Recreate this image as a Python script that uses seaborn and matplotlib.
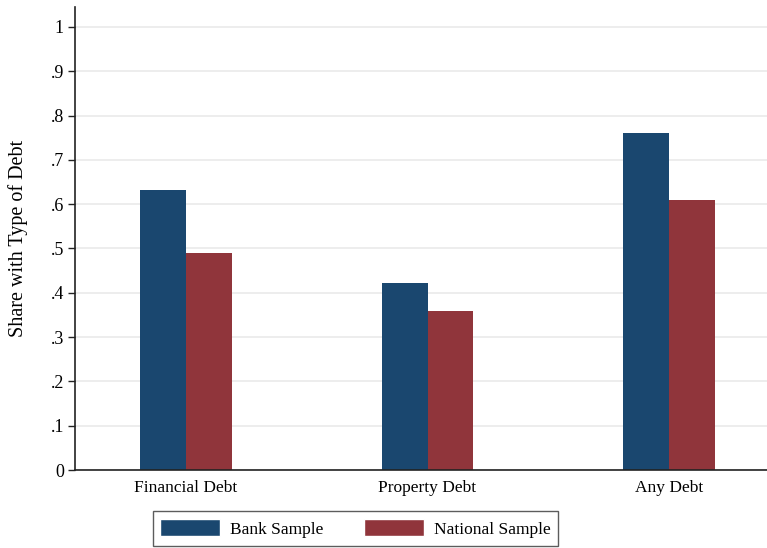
import matplotlib

matplotlib.use("Agg")
import matplotlib.pyplot as plt
import pandas as pd
import seaborn as sns

categories = ["Financial Debt", "Property Debt", "Any Debt"]
bank_sample = [0.632, 0.421, 0.761]
national_sample = [0.490, 0.359, 0.609]
series_names = ["Bank Sample", "National Sample"]
y_ticks = [0, 0.1, 0.2, 0.3, 0.4, 0.5, 0.6, 0.7, 0.8, 0.9, 1.0]
y_tick_labels = ["0", ".1", ".2", ".3", ".4", ".5", ".6", ".7", ".8", ".9", "1"]

sns.set_theme(style="whitegrid")
plt.rcParams["font.family"] = ["Liberation Serif", "DejaVu Serif"]
plt.rcParams["text.color"] = "black"

df = pd.DataFrame({
    "category": categories * 2,
    "sample": [series_names[0]] * 3 + [series_names[1]] * 3,
    "share": bank_sample + national_sample,
})

fig = plt.figure(figsize=(7.67, 5.48), dpi=100)
ax = fig.add_axes([0.0978, 0.1423, 0.9022, 0.8449])
sns.barplot(
    data=df, x="category", y="share", hue="sample",
    palette=["#1a476f", "#90353b"], width=0.38, saturation=1,
    linewidth=0, legend=False, ax=ax,
)

ax.set_xlim(-0.46, 2.406)
ax.set_ylim(0, 1.045)
ax.set_yticks(y_ticks)
ax.set_yticklabels(y_tick_labels)
ax.set_xlabel("")
ax.set_ylabel("Share with Type of Debt", fontsize=14.5, color="black")
ax.yaxis.set_label_coords(-0.068, 0.5)
ax.tick_params(axis="y", length=5, width=1, color="#222222", labelcolor="black",
               labelsize=13, pad=3, left=True)
ax.tick_params(axis="x", length=0, labelcolor="black", labelsize=12.5, pad=7)
ax.set_facecolor("white")
ax.grid(axis="y", color="#eaeaea", linewidth=1.2)
ax.grid(axis="x", visible=False)
ax.set_axisbelow(True)
for side in ["top", "right"]:
    ax.spines[side].set_visible(False)
for side in ["left", "bottom"]:
    ax.spines[side].set_color("#222222")
    ax.spines[side].set_linewidth(1.2)

handles = [
    matplotlib.patches.Patch(facecolor="#1a476f", label=series_names[0]),
    matplotlib.patches.Patch(facecolor="#90353b", label=series_names[1]),
]
leg = fig.legend(
    handles=handles, loc="center", bbox_to_anchor=(355.5 / 767, 1 - 528.5 / 548),
    ncol=2, fontsize=12.5, frameon=True, fancybox=False,
    handlelength=3.46, handleheight=1.15, handletextpad=0.58,
    columnspacing=2.3, borderpad=0.45,
)
leg.get_frame().set_edgecolor("#333333")
leg.get_frame().set_linewidth(1.0)

fig.savefig("out.png", dpi=100)
